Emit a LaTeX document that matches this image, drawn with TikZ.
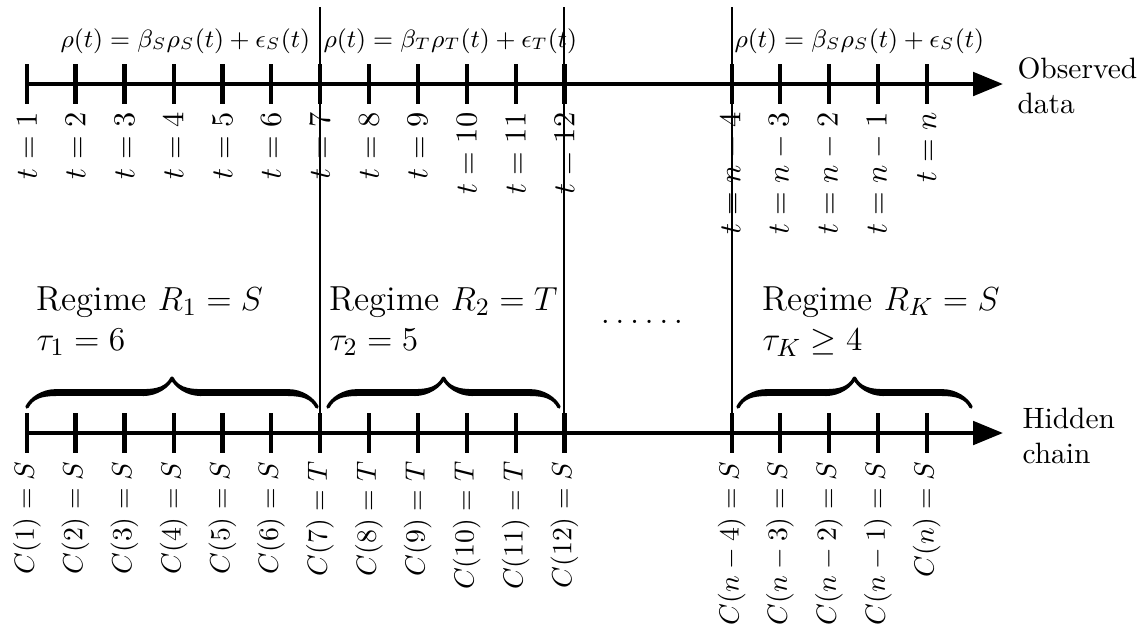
\documentclass[tikz,border=0pt]{standalone}
\usetikzlibrary{decorations.pathreplacing,calligraphy,arrows.meta}
\begin{document}
\begin{tikzpicture}[x=0.36pt,y=-0.36pt,
  axis/.style={line width=1.5pt,-{Triangle[length=10.8pt,width=8.4pt]}},
  tickmark/.style={line width=1.5pt},
  sepline/.style={line width=0.4pt},
  ticklab/.style={rotate=90,anchor=east,inner sep=0pt,font=\fontsize{10.5}{12.6}\selectfont},
  chainlab/.style={rotate=90,anchor=east,inner sep=0pt,font=\fontsize{10.1}{12.1}\selectfont},
  bracestyle/.style={decorate,decoration={calligraphic brace,amplitude=10.4pt},line width=2.5pt},
  formula/.style={anchor=base west,inner sep=0pt,font=\small},
  regime/.style={anchor=north west,inner sep=0pt,font=\fontsize{12.5}{14.5}\selectfont,align=left},
  side/.style={anchor=north west,inner sep=0pt,align=left,font=\fontsize{10.6}{12.6}\selectfont}]
\useasboundingbox (0,0) rectangle (1142,635);
% separator lines
\coordinate (s1t) at (320,7); \coordinate (s1b) at (320,433);
\coordinate (s2t) at (564,7); \coordinate (s2b) at (564,433);
\coordinate (s3t) at (732,7); \coordinate (s3b) at (732,433);
\draw[sepline] (s1t) -- (s1b);
\draw[sepline] (s2t) -- (s2b);
\draw[sepline] (s3t) -- (s3b);
% axes
\coordinate (ta0) at (27,84);  \coordinate (ta1) at (1003,84);
\coordinate (ha0) at (27,433); \coordinate (ha1) at (1003,433);
\draw[axis] (ta0) -- (ta1);
\draw[axis] (ha0) -- (ha1);
% ticks and labels
\foreach \x/\t/\c [count=\i] in {27/1/S,75.5/2/S,124.5/3/S,173.6/4/S,222.5/5/S,271/6/S,320/7/T,369/8/T,417.6/9/T,466.7/10/T,515.7/11/T,564.5/12/S,731.7/n-4/S,780/n-3/S,829/n-2/S,878/n-1/S,926.7/n/S}{
  \coordinate (tt\i) at (\x,64);  \coordinate (tb\i) at (\x,104);
  \coordinate (ht\i) at (\x,413); \coordinate (hb\i) at (\x,453);
  \draw[tickmark] (tt\i) -- (tb\i);
  \draw[tickmark] (ht\i) -- (hb\i);
  \node[ticklab] (tl\i) at (\x,112) {$t=\t$};
  \node[chainlab] (hl\i) at (\x,461) {$C(\t)=\c$};
}
% formulas
\node[formula] (f1) at (60,47) {$\rho(t)=\beta_S\rho_S(t)+\epsilon_S(t)$};
\node[formula] (f2) at (323,47) {$\rho(t)=\beta_T\rho_T(t)+\epsilon_T(t)$};
\node[formula] (f3) at (734,47) {$\rho(t)=\beta_S\rho_S(t)+\epsilon_S(t)$};
% side labels
\node[side] (obs) at (1017,57) {Observed\\data};
\node[side] (hid) at (1022,407) {Hidden\\chain};
% regimes
\node[regime] (r1) at (36,286) {Regime $R_1=S$\\$\tau_1=6$};
\node[regime] (r2) at (329,286) {Regime $R_2=T$\\$\tau_2=5$};
\node[regime] (rk) at (762,286) {Regime $R_K=S$\\$\tau_K\geq 4$};
\node[anchor=base,inner sep=0pt,font=\large] (dots) at (642,323) {$\ldots\ldots$};
% braces
\coordinate (b1a) at (27,407);  \coordinate (b1b) at (317,407);
\coordinate (b2a) at (328,407); \coordinate (b2b) at (559,407);
\coordinate (b3a) at (738,407); \coordinate (b3b) at (971,407);
\draw[bracestyle] (b1a) -- (b1b);
\draw[bracestyle] (b2a) -- (b2b);
\draw[bracestyle] (b3a) -- (b3b);
\end{tikzpicture}
\end{document}
